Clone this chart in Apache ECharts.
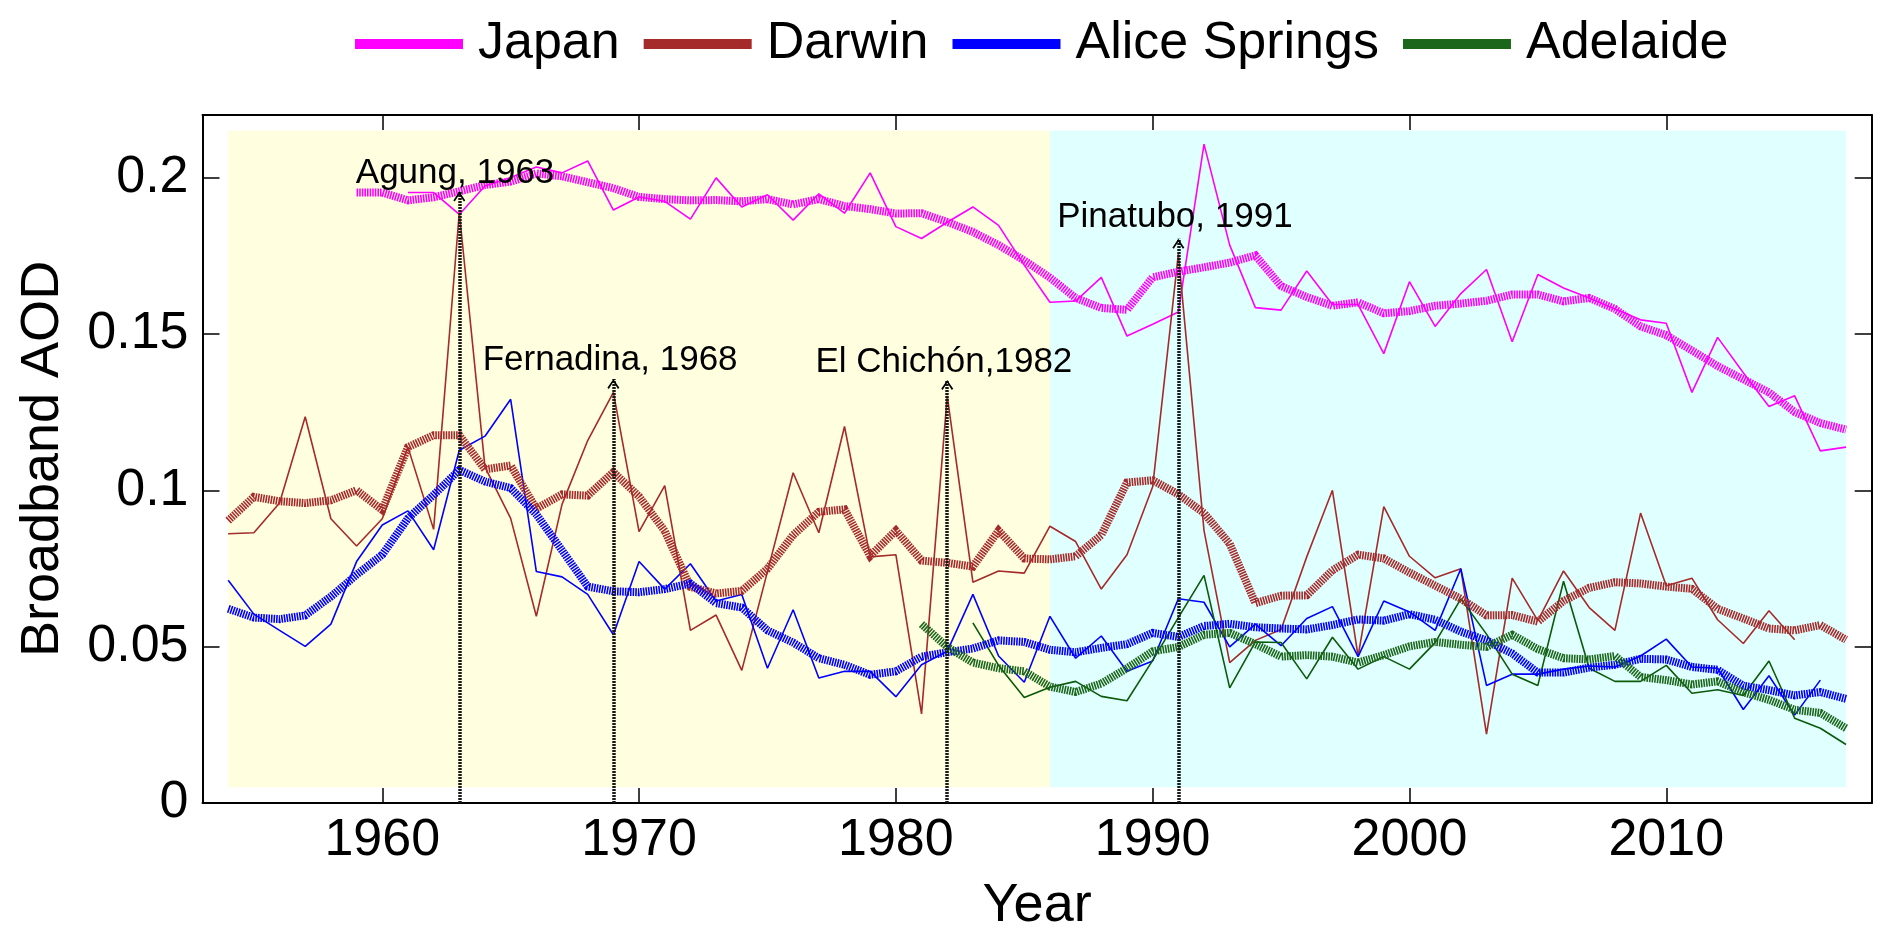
<!DOCTYPE html>
<html><head><meta charset="utf-8">
<script src="https://cdn.jsdelivr.net/npm/echarts@6/dist/echarts.min.js"></script>
<style>html,body{margin:0;padding:0;background:#fff}#c{width:1892px;height:943px}</style>
</head><body><div id="c"></div>
<script>
// ---------- data ----------
const xTicks = [1960, 1970, 1980, 1990, 2000, 2010];
const yTicks = [0, 0.05, 0.1, 0.15, 0.2];

const japanAnnualStart = 1961;
const japanAnnual = [0.1952,0.1952,0.1882,0.1973,0.2000,0.2034,0.2015,0.2053,0.1896,0.1938,
  0.1924,0.1867,0.1999,0.1906,0.1945,0.1864,0.1948,0.1886,0.2015,0.1843,
  0.1805,0.1857,0.1906,0.1847,0.1720,0.1601,0.1605,0.1681,0.1493,0.1531,
  0.1570,0.2107,0.1784,0.1584,0.1576,0.1701,0.1594,0.1594,0.1437,0.1667,
  0.1524,0.1629,0.1706,0.1475,0.1690,0.1647,0.1615,0.1580,0.1545,0.1534,
  0.1313,0.1489,0.1376,0.1268,0.1302,0.1126,0.1138];
const japanSmoothStart = 1959;
const japanSmooth = [0.1952,0.1952,0.1927,0.1937,0.1956,0.1976,0.1987,0.2013,0.2004,0.1985,
  0.1966,0.1938,0.1931,0.1927,0.1928,0.1924,0.1931,0.1914,0.1931,0.1909,
  0.1899,0.1885,0.1886,0.1858,0.1826,0.1784,0.1735,0.1680,0.1615,0.1583,
  0.1577,0.1681,0.1699,0.1713,0.1728,0.1751,0.1653,0.1618,0.1590,0.1601,
  0.1566,0.1573,0.1590,0.1597,0.1606,0.1626,0.1626,0.1604,0.1615,0.1580,
  0.1524,0.1496,0.1447,0.1397,0.1355,0.1313,0.1250,0.1215,0.1194];

const darwinAnnualStart = 1954;
const darwinAnnual = [0.0861,0.0864,0.0959,0.1235,0.0909,0.0822,0.0909,0.1138,0.0875,0.1889,
  0.1074,0.0910,0.0597,0.0955,0.1159,0.1313,0.0868,0.1015,0.0552,0.0601,
  0.0424,0.0740,0.1056,0.0864,0.1204,0.0787,0.0794,0.0285,0.1302,0.0706,
  0.0742,0.0735,0.0885,0.0836,0.0684,0.0794,0.1011,0.1756,0.0871,0.0449,
  0.0520,0.0555,0.0787,0.1000,0.0470,0.0948,0.0789,0.0720,0.0749,0.0220,
  0.0719,0.0583,0.0742,0.0625,0.0552,0.0927,0.0695,0.0719,0.0586,0.0510,
  0.0615,0.0522];
const darwinSmoothStart = 1954;
const darwinSmooth = [0.0903,0.0979,0.0965,0.0959,0.0968,0.1000,0.0937,0.1138,0.1176,0.1176,
  0.1067,0.1079,0.0941,0.0987,0.0983,0.1058,0.0980,0.0870,0.0691,0.0670,
  0.0678,0.0749,0.0857,0.0931,0.0939,0.0790,0.0871,0.0775,0.0768,0.0756,
  0.0871,0.0782,0.0779,0.0789,0.0857,0.1025,0.1032,0.0987,0.0927,0.0829,
  0.0639,0.0663,0.0664,0.0744,0.0794,0.0782,0.0737,0.0695,0.0653,0.0600,
  0.0601,0.0580,0.0646,0.0688,0.0706,0.0702,0.0692,0.0685,0.0621,0.0590,
  0.0558,0.0552,0.0569,0.0522];

const aliceAnnualStart = 1954;
const aliceAnnual = [0.0712,0.0604,0.0552,0.0501,0.0572,0.0772,0.0889,0.0934,0.0810,0.1128,
  0.1173,0.1291,0.0740,0.0723,0.0667,0.0538,0.0772,0.0684,0.0765,0.0646,
  0.0667,0.0431,0.0618,0.0400,0.0421,0.0421,0.0340,0.0442,0.0485,0.0667,
  0.0470,0.0386,0.0597,0.0463,0.0534,0.0421,0.0454,0.0653,0.0642,0.0499,
  0.0572,0.0503,0.0590,0.0628,0.0468,0.0646,0.0611,0.0552,0.0749,0.0376,
  0.0412,0.0412,0.0428,0.0438,0.0435,0.0470,0.0524,0.0435,0.0431,0.0299,
  0.0407,0.0281,0.0393];
const aliceSmoothStart = 1954;
const aliceSmooth = [0.0621,0.0593,0.0588,0.0600,0.0660,0.0730,0.0794,0.0910,0.0985,0.1065,
  0.1028,0.1007,0.0923,0.0808,0.0692,0.0677,0.0674,0.0684,0.0702,0.0639,
  0.0625,0.0552,0.0513,0.0463,0.0442,0.0410,0.0421,0.0468,0.0482,0.0494,
  0.0520,0.0515,0.0490,0.0482,0.0496,0.0508,0.0544,0.0531,0.0566,0.0573,
  0.0562,0.0558,0.0555,0.0569,0.0587,0.0583,0.0604,0.0586,0.0548,0.0520,
  0.0478,0.0417,0.0417,0.0433,0.0442,0.0461,0.0459,0.0435,0.0426,0.0375,
  0.0361,0.0344,0.0355,0.0333];

const adelaideAnnualStart = 1983;
const adelaideAnnual = [0.0576,0.0440,0.0337,0.0370,0.0389,0.0341,0.0327,0.0456,0.0593,0.0728,
  0.0368,0.0515,0.0513,0.0397,0.0530,0.0428,0.0468,0.0428,0.0513,0.0653,
  0.0540,0.0412,0.0376,0.0709,0.0431,0.0389,0.0389,0.0440,0.0351,0.0362,
  0.0344,0.0454,0.0271,0.0239,0.0187];
const adelaideSmoothStart = 1981;
const adelaideSmooth = [0.0572,0.0499,0.0449,0.0431,0.0421,0.0372,0.0355,0.0382,0.0431,0.0485,
  0.0499,0.0538,0.0544,0.0508,0.0468,0.0473,0.0468,0.0449,0.0473,0.0501,
  0.0515,0.0506,0.0499,0.0538,0.0492,0.0463,0.0459,0.0470,0.0403,0.0393,
  0.0379,0.0389,0.0354,0.0330,0.0298,0.0288,0.0239];

const volcanoNames = ['Agung, 1963', 'Fernadina, 1968', 'El Chichón,1982', 'Pinatubo, 1991'];
const volcanoYears = [1963, 1969, 1982, 1991];
const volcanoTips = [0.1955, 0.1356, 0.1353, 0.1804];
const volcanoLabelX = [1958.97, 1963.91, 1976.87, 1986.28];
const volcanoLabelY = [0.2015, 0.1414, 0.1410, 0.1872];

const periodStart = [1954, 1986];
const periodEnd = [1986, 2017];
const periodBottom = 0.005;
const periodTop = 0.215;

// ---------- chart ----------
function pairs(start, vals) { return vals.map((v, i) => [start + i, v]); }
const FONT = 'Liberation Sans, Arial, Helvetica, sans-serif';
const periodColors = ['#FFFFE0', '#E0FFFF'];

function thin(name, color, start, vals, extra) {
  return Object.assign({
    name: name, type: 'line', data: pairs(start, vals), symbol: 'none', z: 2,
    lineStyle: { color: color, width: 1.6 }, itemStyle: { color: color }
  }, extra || {});
}
function thick(name, color, start, vals) {
  return {
    name: name, type: 'line', data: pairs(start, vals), symbol: 'none', z: 3,
    lineStyle: { color: color, width: 8, type: [1.6, 1], cap: 'butt', join: 'miter' },
    itemStyle: { color: color }
  };
}

const chart = echarts.init(document.getElementById('c'), null, { renderer: 'canvas' });
const axisLineStyle = { color: '#000', width: 2 };
const plain = v => String(v);
chart.setOption({
  animation: false,
  backgroundColor: '#fff',
  textStyle: { fontFamily: FONT, color: '#000' },
  grid: { left: 202.5, right: 20.3, top: 115, bottom: 140, containLabel: false },
  legend: {
    data: ['Japan', 'Darwin', 'Alice Springs', 'Adelaide'],
    icon: 'rect', itemWidth: 108, itemHeight: 10, itemGap: 24,
    left: 350, top: 13,
    textStyle: { fontSize: 52, fontFamily: FONT, color: '#000', padding: [0, 0, 0, 10] }
  },
  xAxis: [{
    type: 'value', min: 1953, max: 2018, position: 'bottom',
    axisLine: { onZero: false, lineStyle: axisLineStyle },
    axisTick: { inside: true, length: 15, lineStyle: { color: '#000', width: 1.5 }, customValues: xTicks },
    axisLabel: { fontSize: 52, color: '#000', fontFamily: FONT, margin: 12, customValues: xTicks, formatter: plain },
    splitLine: { show: false },
    name: 'Year', nameLocation: 'middle', nameGap: 76,
    nameTextStyle: { fontSize: 54, color: '#000', fontFamily: FONT }
  }, {
    type: 'value', min: 1953, max: 2018, position: 'top',
    axisLine: { onZero: false, lineStyle: axisLineStyle },
    axisTick: { inside: true, length: 15, lineStyle: { color: '#000', width: 1.5 }, customValues: xTicks },
    axisLabel: { show: false, customValues: xTicks },
    splitLine: { show: false }
  }],
  yAxis: [{
    type: 'value', min: 0, max: 0.22, position: 'left',
    axisLine: { onZero: false, lineStyle: axisLineStyle },
    axisTick: { inside: true, length: 17, lineStyle: { color: '#000', width: 1.5 }, customValues: yTicks },
    axisLabel: { fontSize: 52, color: '#000', fontFamily: FONT, margin: 14, customValues: yTicks, formatter: plain },
    splitLine: { show: false },
    name: 'Broadband AOD', nameLocation: 'middle', nameGap: 132, nameRotate: 90,
    nameTextStyle: { fontSize: 54, color: '#000', fontFamily: FONT }
  }, {
    type: 'value', min: 0, max: 0.22, position: 'right',
    axisLine: { onZero: false, lineStyle: axisLineStyle },
    axisTick: { inside: true, length: 17, lineStyle: { color: '#000', width: 1.5 }, customValues: yTicks },
    axisLabel: { show: false, customValues: yTicks },
    splitLine: { show: false }
  }],
  series: [
    thin('Japan annual', '#FF00FF', japanAnnualStart, japanAnnual, {
      markArea: {
        silent: true, z: 1,
        data: periodStart.map((s, i) => [
          { coord: [s, periodBottom], itemStyle: { color: periodColors[i] } },
          { coord: [periodEnd[i], periodTop] }
        ])
      }
    }),
    thin('Darwin annual', '#A52A2A', darwinAnnualStart, darwinAnnual),
    thin('Alice Springs annual', '#0000FF', aliceAnnualStart, aliceAnnual),
    thin('Adelaide annual', '#0A5A0A', adelaideAnnualStart, adelaideAnnual),
    thick('Japan', '#FF00FF', japanSmoothStart, japanSmooth),
    thick('Darwin', '#A52A2A', darwinSmoothStart, darwinSmooth),
    thick('Alice Springs', '#0000FF', aliceSmoothStart, aliceSmooth),
    thick('Adelaide', '#1B661B', adelaideSmoothStart, adelaideSmooth),
    {
      name: 'volcano labels', type: 'scatter', z: 6, symbolSize: 0.01,
      itemStyle: { color: '#000', opacity: 1 },
      data: volcanoNames.map((n, i) => ({ name: n, value: [volcanoLabelX[i], volcanoLabelY[i]] })),
      label: { show: true, position: 'right', distance: 0, formatter: '{b}', fontSize: 35, color: '#000',
               fontFamily: FONT, opacity: 1 },
      markLine: {
        silent: true, z: 5,
        symbol: ['none', 'none'],
        label: { show: false },
        lineStyle: { color: '#1a1a1a', width: 3.5, type: [2, 1], opacity: 1 },
        data: volcanoYears.map((y, i) => [{ coord: [y, 0] }, { coord: [y, volcanoTips[i]] }])
      }
    },
    {
      name: 'volcano arrows', type: 'scatter', z: 7,
      symbol: 'path://M5,0 L10,8 L8.8,9 L5,2.6 L1.2,9 L0,8 Z',
      symbolSize: [12, 10], symbolOffset: [0, '50%'],
      itemStyle: { color: '#000', opacity: 1 },
      data: volcanoYears.map((y, i) => [y, volcanoTips[i]])
    }
  ]
});
</script></body></html>
